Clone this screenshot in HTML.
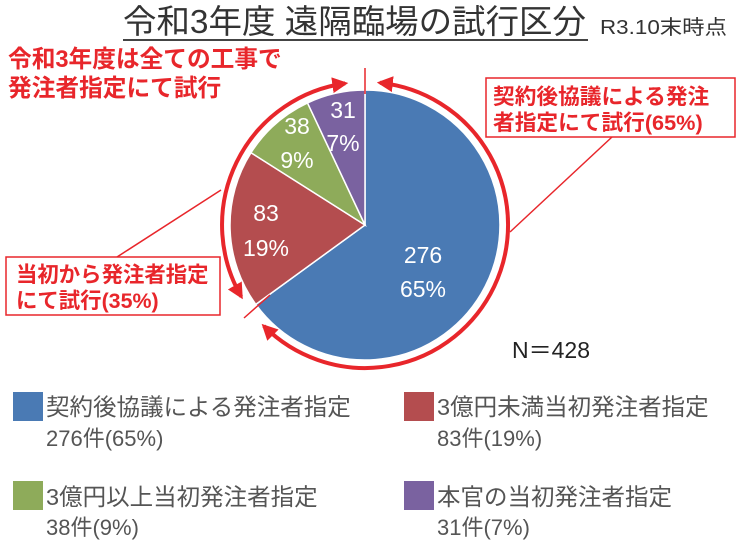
<!DOCTYPE html>
<html><head><meta charset="utf-8"><style>
html,body{margin:0;padding:0;background:#fff;}
body{width:737px;height:557px;overflow:hidden;position:relative;font-family:"Liberation Sans","Noto Sans CJK JP",sans-serif;}
svg{position:absolute;left:0;top:0;}
</style></head><body>
<svg width="737" height="557" viewBox="0 0 737 557" font-family="Liberation Sans, Noto Sans CJK JP, sans-serif">
<defs>
<marker id="ah" viewBox="0 0 10 10" refX="8" refY="5" markerWidth="4" markerHeight="4" orient="auto-start-reverse"><path d="M0,0 L10,5 L0,10 z" fill="#e8262b"/></marker>
</defs>
<text x="123" y="33" font-size="33" fill="#333" textLength="463" lengthAdjust="spacingAndGlyphs">令和3年度 遠隔臨場の試行区分</text>
<line x1="123" y1="40" x2="588" y2="40" stroke="#444" stroke-width="2"/>
<text x="600" y="34" font-size="20" fill="#333" textLength="127" lengthAdjust="spacingAndGlyphs">R3.10末時点</text>
<text x="8" y="67" font-size="23.7" font-weight="bold" fill="#e8262b">令和3年度は全ての工事で</text>
<text x="8" y="96" font-size="23.7" font-weight="bold" fill="#e8262b">発注者指定にて試行</text>
<path d="M365,225 L365,90 A135,135 0 1 1 255.8,304.4 Z" fill="#4a7ab4" stroke="#fff" stroke-width="1.5"/>
<path d="M365,225 L255.8,304.4 A135,135 0 0 1 251,152.7 Z" fill="#b44d4f" stroke="#fff" stroke-width="1.5"/>
<path d="M365,225 L251,152.7 A135,135 0 0 1 307.5,102.9 Z" fill="#8eab5a" stroke="#fff" stroke-width="1.5"/>
<path d="M365,225 L307.5,102.9 A135,135 0 0 1 365,90 Z" fill="#7a62a0" stroke="#fff" stroke-width="1.5"/>
<g fill="#fff" font-size="23" text-anchor="middle">
<text x="343" y="118">31</text><text x="343" y="151">7%</text>
<text x="297" y="134">38</text><text x="297" y="168">9%</text>
<text x="266" y="221">83</text><text x="266" y="256">19%</text>
<text x="423" y="263">276</text><text x="423" y="297">65%</text>
</g>
<path d="M345.1,83.4 A143,143 0 0 0 241.2,296.5" fill="none" stroke="#e8262b" stroke-width="4" marker-start="url(#ah)" marker-end="url(#ah)"/>
<path d="M380,82.8 A143,143 0 1 1 263.9,326.1" fill="none" stroke="#e8262b" stroke-width="4" marker-start="url(#ah)" marker-end="url(#ah)"/>
<line x1="365" y1="68" x2="365" y2="94" stroke="#e8262b" stroke-width="1.5"/>
<rect x="486" y="78" width="249" height="59" fill="#fff" stroke="#e8262b" stroke-width="1.5"/>
<text x="493" y="104" font-size="21.7" font-weight="bold" fill="#e8262b">契約後協議による発注</text>
<text x="493" y="130" font-size="21.7" font-weight="bold" fill="#e8262b">者指定にて試行(65%)</text>
<line x1="612" y1="137" x2="510" y2="232" stroke="#e8262b" stroke-width="1.5"/>
<rect x="6" y="257" width="214" height="58" fill="#fff" stroke="#e8262b" stroke-width="1.5"/>
<text x="16" y="282" font-size="21.4" font-weight="bold" fill="#e8262b">当初から発注者指定</text>
<text x="16" y="308" font-size="21.4" font-weight="bold" fill="#e8262b">にて試行(35%)</text>
<line x1="117" y1="257" x2="221" y2="190" stroke="#e8262b" stroke-width="1.5"/>
<line x1="270" y1="295" x2="244" y2="318" stroke="#e8262b" stroke-width="1.5"/>
<text x="512" y="358" font-size="23" fill="#222">N＝428</text>
<rect x="13" y="392" width="30" height="29" fill="#4a7ab4"/>
<rect x="404" y="392" width="30" height="29" fill="#b44d4f"/>
<rect x="13" y="481" width="30" height="29" fill="#8eab5a"/>
<rect x="404" y="481" width="30" height="29" fill="#7a62a0"/>
<g font-size="23.5" fill="#555">
<text x="46" y="415">契約後協議による発注者指定</text>
<text x="437" y="415">3億円未満当初発注者指定</text>
<text x="46" y="505">3億円以上当初発注者指定</text>
<text x="437" y="505">本官の当初発注者指定</text>
</g>
<g font-size="22" fill="#555">
<text x="46" y="446">276件(65%)</text>
<text x="437" y="446">83件(19%)</text>
<text x="46" y="535">38件(9%)</text>
<text x="437" y="535">31件(7%)</text>
</g>
</svg>
</body></html>
